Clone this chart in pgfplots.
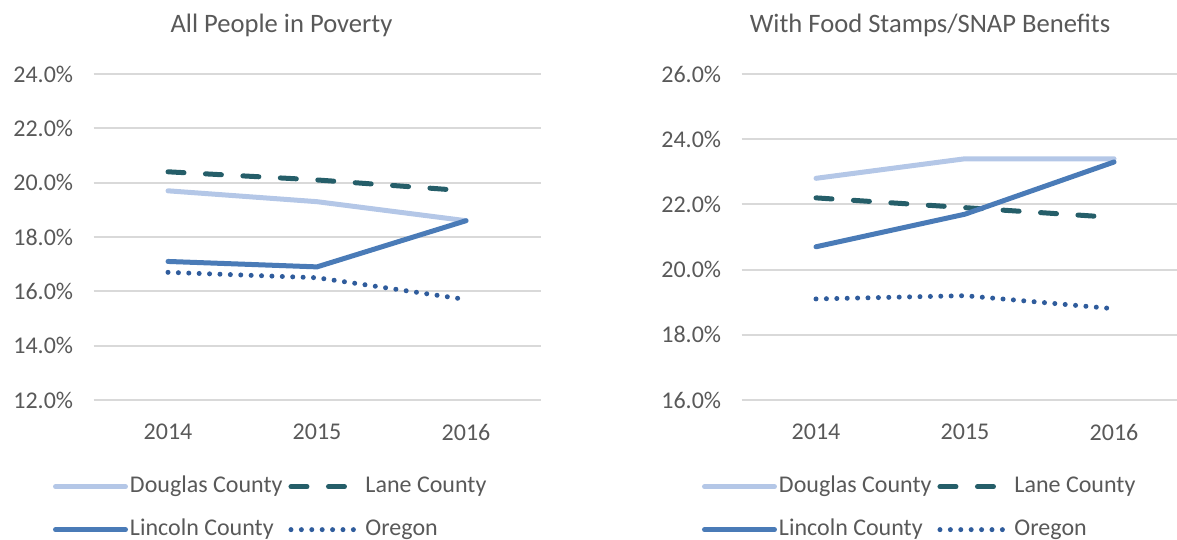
\documentclass[border=0pt]{standalone}
\usepackage{fontspec}
\setmainfont{Carlito}
\usepackage{pgfplots}
\pgfplotsset{compat=1.18}
\definecolor{txt}{HTML}{595959}
\definecolor{gridc}{HTML}{D9D9D9}
\definecolor{douglas}{HTML}{B4C7E7}
\definecolor{lane}{HTML}{255E69}
\definecolor{lincoln}{HTML}{4A7BB7}
\definecolor{oregon}{HTML}{2F5C9C}
\pgfplotsset{
 mystyle/.style={
  scale only axis, width=223.5pt, height=163pt,
  xmin=2013.5, xmax=2016.5, xtick={2014,2015,2016},
  xticklabels={2014,2015,2016},
  axis line style={draw=none},
  major tick length=0pt,
  ymajorgrids, grid style={color=gridc, line width=1pt},
  tick label style={font=\fontsize{12}{14}\selectfont, text=txt},
  yticklabel style={anchor=east, inner sep=0pt, xshift=-10pt},
  xticklabel style={anchor=north, inner sep=0pt, yshift=-12pt},
  clip=false,
  legend columns=2,
  legend cell align=left,
  legend style={draw=none, fill=none, font=\fontsize{12}{14}\selectfont, text=txt,
    inner sep=0pt, outer sep=0pt, anchor=north west,
    nodes={inner sep=0pt, text height=8.5pt, text depth=2.5pt},
    row sep=10.5pt,
    /tikz/every odd column/.append style={column sep=1pt},
    /tikz/every even column/.append style={column sep=3pt}},
  legend image code/.code={\draw[##1] (0pt,0pt) -- (35pt,0pt);},
 },
 douglasS/.style={color=douglas, line width=2.5pt, line cap=round, line join=round},
 laneS/.style={color=lane, line width=2.5pt, line cap=round, line join=round, dash pattern=on 8pt off 10.75pt},
 lincolnS/.style={color=lincoln, line width=2.5pt, line cap=round, line join=round},
 oregonS/.style={color=oregon, line width=2.5pt, line cap=round, line join=round, dash pattern=on 0pt off 5.2pt},
}
\begin{document}
\begin{tikzpicture}
\useasboundingbox (0pt,0pt) rectangle (588.5pt,270pt);
\clip (0pt,0pt) rectangle (588.5pt,270pt);
\begin{axis}[mystyle, at={(46.75pt,70pt)}, anchor=south west,
  ymin=12, ymax=24, ytick={12,14,16,18,20,22,24},
  yticklabels={12.0\%,14.0\%,16.0\%,18.0\%,20.0\%,22.0\%,24.0\%},
  legend style={at={(-0.0906,-0.232)}}]
\addplot[douglasS] coordinates {(2014,19.7) (2015,19.3) (2016,18.6)};
\addlegendentry{Douglas County}
\addplot[laneS] coordinates {(2014,20.4) (2015,20.1) (2016,19.7)};
\addlegendentry{Lane County}
\addplot[lincolnS] coordinates {(2014,17.1) (2015,16.9) (2016,18.6)};
\addlegendentry{Lincoln County}
\addplot[oregonS] coordinates {(2014,16.7) (2015,16.5) (2016,15.7)};
\addlegendentry{Oregon}
\end{axis}
\begin{axis}[mystyle, at={(370.75pt,70pt)}, anchor=south west,
  ymin=16, ymax=26, ytick={16,18,20,22,24,26},
  yticklabels={16.0\%,18.0\%,20.0\%,22.0\%,24.0\%,26.0\%},
  legend style={at={(-0.0884,-0.232)}}]
\addplot[douglasS] coordinates {(2014,22.8) (2015,23.4) (2016,23.4)};
\addlegendentry{Douglas County}
\addplot[laneS] coordinates {(2014,22.2) (2015,21.9) (2016,21.6)};
\addlegendentry{Lane County}
\addplot[lincolnS] coordinates {(2014,20.7) (2015,21.7) (2016,23.3)};
\addlegendentry{Lincoln County}
\addplot[oregonS] coordinates {(2014,19.1) (2015,19.2) (2016,18.8)};
\addlegendentry{Oregon}
\end{axis}
\node[font=\fontsize{13.3}{16}\selectfont, text=txt, inner sep=0pt] at (140.75pt,257.5pt) {All People in Poverty};
\node[font=\fontsize{13.3}{16}\selectfont, text=txt, inner sep=0pt] at (465pt,257.5pt) {With Food Stamps/SNAP Benefits};
\end{tikzpicture}
\end{document}
